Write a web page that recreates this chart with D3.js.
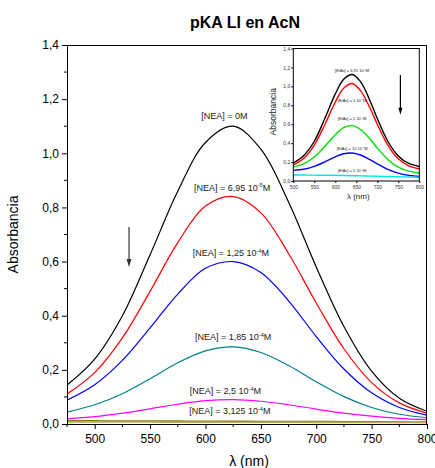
<!DOCTYPE html>
<html><head><meta charset="utf-8">
<script src="https://cdn.jsdelivr.net/npm/d3@7"></script>
<style>
body{margin:0;background:#fff;}
svg{display:block;font-family:"Liberation Sans",Arial,sans-serif;}
</style></head>
<body><svg id="c" width="435" height="468"></svg>
<script>
// ---- main chart data ----
const wavelengths = [475,500,525,550,575,600,625,650,675,700,725,750,775,800];
const seriesNEA0    = [0.144,0.24,0.40,0.625,0.86,1.04,1.10,1.015,0.82,0.58,0.36,0.195,0.095,0.047];
const seriesNEA695  = [0.111,0.19,0.318,0.49,0.67,0.805,0.84,0.78,0.63,0.447,0.278,0.153,0.078,0.04];
const seriesNEA125  = [0.088,0.145,0.235,0.355,0.48,0.575,0.60,0.56,0.455,0.323,0.203,0.115,0.061,0.033];
const seriesNEA185  = [0.044,0.071,0.112,0.167,0.226,0.27,0.285,0.264,0.216,0.156,0.101,0.061,0.036,0.023];
const seriesNEA25   = [0.019,0.027,0.040,0.056,0.073,0.086,0.09,0.084,0.071,0.055,0.040,0.029,0.021,0.016];
const seriesNEA3125 = [0.012,0.0115,0.011,0.011,0.0105,0.01,0.01,0.0095,0.009,0.0088,0.0085,0.008,0.0075,0.0072];
const seriesBase    = [0.008,0.0078,0.0075,0.0072,0.007,0.0068,0.0066,0.0064,0.0062,0.006,0.0058,0.0056,0.0054,0.0052];
const mainColors = ["#000000","#ff0000","#0000ff","#008080","#ff00ff","#808000","#b8a860"];
const mainSeries = [seriesNEA0,seriesNEA695,seriesNEA125,seriesNEA185,seriesNEA25,seriesNEA3125,seriesBase];
const xTickLabels = [500,550,600,650,700,750,800];
const yTickLabels = [0,0.2,0.4,0.6,0.8,1.0,1.2,1.4];
// labels: [text before sup, sup, after, nm, absorbance]
const mainLabels = [
  ["[NEA] = 0M","","",617,1.127],
  ["[NEA] = 6,95 10","-5","M",624,0.861],
  ["[NEA] = 1,25 10","-4","M",623,0.62],
  ["[NEA] = 1,85 10","-4","M",625,0.31],
  ["[NEA] = 2,5 10","-4","M",618,0.111],
  ["[NEA] = 3,125 10","-4","M",622,0.037]
];
const mainArrow = [531,0.728,0.58];

// ---- inset data ----
const insetWavelengths = [500,525,550,575,600,620,640,660,680,700,725,750,775,800];
const insetS1 = [0.19,0.27,0.42,0.66,0.92,1.075,1.125,1.05,0.875,0.66,0.42,0.265,0.185,0.153];
const insetS2 = [0.17,0.24,0.38,0.595,0.835,0.98,1.03,0.955,0.795,0.60,0.38,0.235,0.16,0.13];
const insetS3 = [0.149,0.182,0.253,0.365,0.489,0.563,0.585,0.544,0.457,0.349,0.228,0.146,0.104,0.084];
const insetS4 = [0.112,0.124,0.154,0.202,0.256,0.288,0.296,0.275,0.232,0.181,0.122,0.083,0.06,0.048];
const insetS5 = [0.064,0.063,0.062,0.061,0.06,0.058,0.056,0.054,0.052,0.05,0.047,0.045,0.042,0.04];
const insetSeries = [insetS1,insetS2,insetS3,insetS4,insetS5];
const insetColors = ["#000000","#ff0000","#00dd00","#0000ff","#00e5e5"];
const insetXTicks = [500,550,600,650,700,750,800];
const insetYTicks = [0,0.2,0.4,0.6,0.8,1.0,1.2,1.4];
const insetLabels = [
  ["[EtAs] = 6,95 10","-5","M",640,1.15],
  ["[EtAs] = 1 10","-4","M",640,0.84],
  ["[EtAs] = 5 10","-4","M",640,0.64],
  ["[EtAs] = 10 10","-4","M",640,0.33],
  ["[EtAs] = 5 10","-3","M",640,0.09]
];
const insetArrow = [755,1.12,0.70];

const fmt = v => d3.format(".1f")(v).replace(".",",");
const svg = d3.select("#c");

// ---- main scales ----
const M = {l:67,r:427,t:45,b:424};
const x = d3.scaleLinear().domain([475,800]).range([M.l,M.r]);
const y = d3.scaleLinear().domain([0,1.4]).range([M.b,M.t]);

svg.append("defs").append("clipPath").attr("id","mclip")
  .append("rect").attr("x",M.l).attr("y",M.t).attr("width",M.r-M.l).attr("height",M.b-M.t);

// title
svg.append("text").attr("x",245).attr("y",28).attr("text-anchor","middle")
  .attr("font-size",16).attr("font-weight","bold").text("pKA LI en AcN");

// curves
const line = d3.line().curve(d3.curveCatmullRom.alpha(0.5));
const gm = svg.append("g").attr("clip-path","url(#mclip)");
mainSeries.forEach((s,i)=>{
  gm.append("path").attr("d",line(wavelengths.map((w,j)=>[x(w),y(s[j])])))
    .attr("fill","none").attr("stroke",mainColors[i]).attr("stroke-width",i>=5?1.6:1.2);
});

// frame
svg.append("rect").attr("x",M.l+0.5).attr("y",M.t+0.5).attr("width",M.r-M.l-1).attr("height",M.b-M.t)
  .attr("fill","none").attr("stroke","#000").attr("stroke-width",1);

// axes
const xAxis = d3.axisBottom(x).tickValues(xTickLabels).tickSize(5).tickSizeOuter(0).tickFormat(d3.format("d"));
const gx = svg.append("g").attr("transform",`translate(0,${M.b})`).call(xAxis);
gx.select(".domain").remove();
gx.selectAll("text").attr("font-size",12).attr("font-family","Liberation Sans, Arial, sans-serif").attr("fill","#000").attr("dy","0.9em");
const xMinor = d3.range(475,801,25).filter(v=>!xTickLabels.includes(v));
svg.append("g").selectAll("line").data(xMinor).join("line")
  .attr("x1",d=>x(d)).attr("x2",d=>x(d)).attr("y1",M.b).attr("y2",M.b+3).attr("stroke","#000");

const yAxis = d3.axisLeft(y).tickValues(yTickLabels).tickSize(5).tickSizeOuter(0).tickFormat(fmt);
const gy = svg.append("g").attr("transform",`translate(${M.l},0)`).call(yAxis);
gy.select(".domain").remove();
gy.selectAll("text").attr("font-size",12).attr("font-family","Liberation Sans, Arial, sans-serif").attr("fill","#000").attr("x",-8);
const yMinor = d3.range(0.1,1.4,0.2);
svg.append("g").selectAll("line").data(yMinor).join("line")
  .attr("x1",M.l-3).attr("x2",M.l).attr("y1",d=>y(d)).attr("y2",d=>y(d)).attr("stroke","#000");

// axis titles
svg.append("text").attr("transform",`translate(18,${(M.t+M.b)/2}) rotate(-90)`)
  .attr("text-anchor","middle").attr("font-size",14).text("Absorbancia");
svg.append("text").attr("x",(M.l+M.r)/2+2).attr("y",466).attr("text-anchor","middle")
  .attr("font-size",14).text("λ (nm)");

// labels
function addLabel(g, L, xs, ys, fs){
  const t = g.append("text").attr("x",xs(L[3])).attr("y",ys(L[4])).attr("text-anchor","middle")
    .attr("font-size",fs).attr("fill","#222");
  t.append("tspan").text(L[0]);
  if(L[1]){
    t.append("tspan").attr("dy",-fs*0.38).attr("font-size",fs*0.62).text(L[1]);
    t.append("tspan").attr("dy",fs*0.38).text(L[2]);
  }
}
mainLabels.forEach(L=>addLabel(svg,L,x,y,9));

// arrow
function arrow(ax, ay, A, hw, hl, color){
  const x0 = ax(A[0]), y0 = ay(A[1]), y1 = ay(A[2]);
  svg.append("line").attr("x1",x0).attr("x2",x0).attr("y1",y0).attr("y2",y1-hl+1)
    .attr("stroke",color).attr("stroke-width",1.2);
  svg.append("path").attr("d",`M${x0-hw},${y1-hl} L${x0+hw},${y1-hl} L${x0},${y1} Z`).attr("fill",color);
}
arrow(x,y,mainArrow,2.5,8,"#333");

// ---- inset ----
const I = {l:293.3,r:419.3,t:48.5,b:181};
const ix = d3.scaleLinear().domain([500,800]).range([I.l,I.r]);
const iy = d3.scaleLinear().domain([0,1.4]).range([I.b,I.t]);
svg.append("rect").attr("x",I.l).attr("y",I.t).attr("width",I.r-I.l).attr("height",I.b-I.t).attr("fill","#fff");
svg.append("defs").append("clipPath").attr("id","iclip")
  .append("rect").attr("x",I.l).attr("y",I.t).attr("width",I.r-I.l).attr("height",I.b-I.t);
const gi = svg.append("g").attr("clip-path","url(#iclip)");
insetSeries.forEach((s,i)=>{
  gi.append("path").attr("d",line(insetWavelengths.map((w,j)=>[ix(w),iy(s[j])])))
    .attr("fill","none").attr("stroke",insetColors[i]).attr("stroke-width",1.4);
});
svg.append("rect").attr("x",I.l).attr("y",I.t).attr("width",I.r-I.l).attr("height",I.b-I.t)
  .attr("fill","none").attr("stroke","#000").attr("stroke-width",1);

const igx = svg.append("g").attr("transform",`translate(0,${I.b})`)
  .call(d3.axisBottom(ix).tickValues(insetXTicks).tickSize(2).tickSizeOuter(0).tickFormat(d3.format("d")));
igx.select(".domain").remove();
igx.selectAll("text").attr("font-size",5).attr("font-family","Liberation Sans, Arial, sans-serif").attr("fill","#333").attr("dy","0.6em");
const igy = svg.append("g").attr("transform",`translate(${I.l},0)`)
  .call(d3.axisLeft(iy).tickValues(insetYTicks).tickSize(2).tickSizeOuter(0).tickFormat(fmt));
igy.select(".domain").remove();
igy.selectAll("text").attr("font-size",5).attr("font-family","Liberation Sans, Arial, sans-serif").attr("fill","#333").attr("x",-3);

svg.append("text").attr("transform",`translate(276,${(I.t+I.b)/2-3}) rotate(-90)`)
  .attr("text-anchor","middle").attr("font-size",8.5).attr("fill","#222").text("Absorbancia");
svg.append("text").attr("x",(I.l+I.r)/2+2).attr("y",199).attr("text-anchor","middle")
  .attr("font-size",8).attr("fill","#222").text("λ (nm)");

insetLabels.forEach(L=>addLabel(svg,L,ix,iy,4));
arrow(ix,iy,insetArrow,2,7,"#000");
</script></body></html>
